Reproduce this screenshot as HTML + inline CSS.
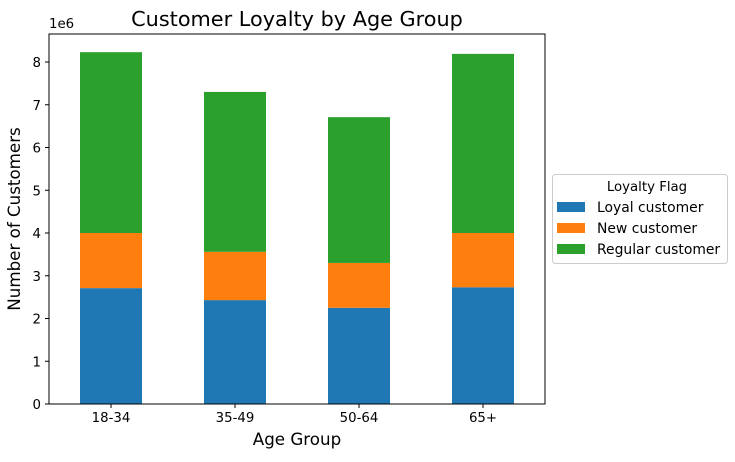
<!DOCTYPE html>
<html><head><meta charset="utf-8"><style>
body{margin:0;background:#fff;font-family:"DejaVu Sans","Liberation Sans",sans-serif;}
svg text{font-family:"DejaVu Sans","Liberation Sans",sans-serif;fill:#000;}
</style></head><body>
<svg id="chart" width="735" height="458">
<text x="297" y="26" font-size="20.8" text-anchor="middle">Customer Loyalty by Age Group</text>
<g id="plot"></g>
</svg>
<script>
const categories = ["18-34","35-49","50-64","65+"];
const loyal = [2.71, 2.43, 2.25, 2.73];
const newC = [1.29, 1.13, 1.05, 1.27];
const regular = [4.23, 3.74, 3.41, 4.19];
const seriesNames = ["Loyal customer","New customer","Regular customer"];
const yTicks = [0,1,2,3,4,5,6,7,8];
const colors = ["#1f77b4","#ff7f0e","#2ca02c"];
const NS = "http://www.w3.org/2000/svg";
const L=49,R=545,T=34,B=404;
const y = v => B - v*42.75;
const x = i => L + (i+0.5)*(R-L)/categories.length;
const bw = 62;
const g = document.getElementById('plot');
function mk(tag, attrs, parent){const e=document.createElementNS(NS,tag);for(const k in attrs)e.setAttribute(k,attrs[k]);(parent||g).appendChild(e);return e;}
const series=[loyal,newC,regular];
categories.forEach((c,i)=>{
  let base=0;
  series.forEach((s,j)=>{
    const r=mk('rect',{x:x(i)-bw/2,y:y(base+s[i]),width:bw,height:y(base)-y(base+s[i]),fill:colors[j]});
    
    
    base+=s[i];
  });
  mk('line',{x1:x(i),x2:x(i),y1:B,y2:B+4,stroke:'#000'});
  const t=mk('text',{x:x(i),y:B+18,'font-size':13.3,'text-anchor':'middle'});t.textContent=c;
  
  
});
yTicks.forEach(v=>{
  mk('line',{x1:L-4,x2:L,y1:y(v),y2:y(v),stroke:'#000'});
  const t=mk('text',{x:L-8,y:y(v)+5,'font-size':13.3,'text-anchor':'end'});t.textContent=v;
  
  
});
const fr=mk('rect',{x:L,y:T,width:R-L,height:B-T,fill:'none',stroke:'#000','stroke-width':1});


let t=mk('text',{x:L,y:T-6,'font-size':13.3});t.textContent='1e6';


t=mk('text',{x:297,y:445,'font-size':16.7,'text-anchor':'middle'});t.textContent='Age Group';


t=mk('text',{x:20,y:219,'font-size':16.7,'text-anchor':'middle',transform:'rotate(-90 20 219)'});t.textContent='Number of Customers';


const lg=mk('g',{});


mk('rect',{x:552.5,y:174.5,width:175,height:89,rx:3,fill:'#fff',stroke:'#ccc'},lg);
t=mk('text',{x:647,y:191,'font-size':13.3,'text-anchor':'middle'},lg);t.textContent='Loyalty Flag';
seriesNames.forEach((n,j)=>{
  const yy=202+j*21;
  mk('rect',{x:557,y:yy,width:28,height:10,fill:colors[j]},lg);
  const e=mk('text',{x:597,y:yy+10,'font-size':13.9},lg);e.textContent=n;
  
  
});
</script>
</body></html>
